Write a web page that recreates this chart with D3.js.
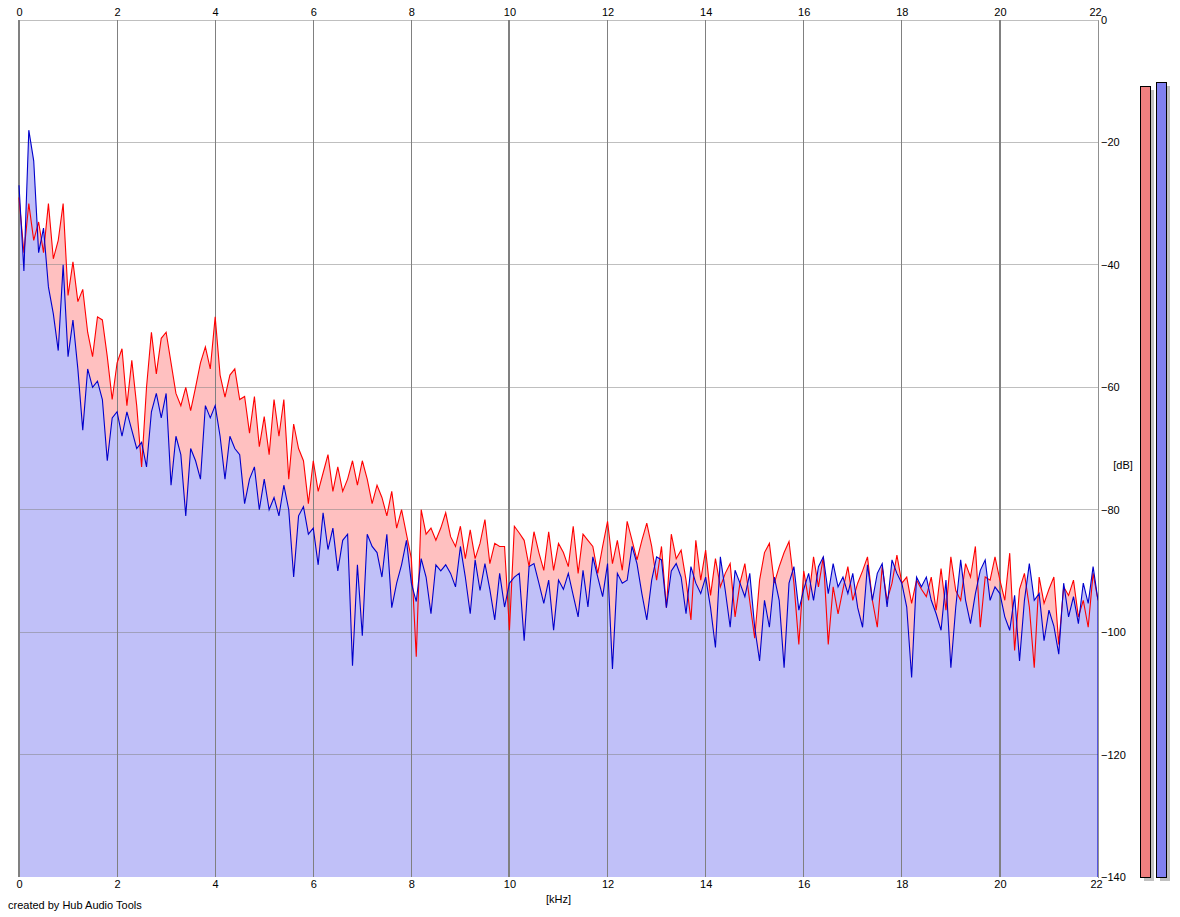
<!DOCTYPE html>
<html>
<head>
<meta charset="utf-8">
<script src="https://cdn.jsdelivr.net/npm/d3@7"></script>
<style>
  html, body { margin: 0; padding: 0; background: #ffffff; }
  svg { display: block; }
  text { font-family: "Liberation Sans", Arial, sans-serif; font-size: 11px; fill: #000; }
</style>
</head>
<body>
<svg id="chart" width="1180" height="917"></svg>
<script>
// ---- data ----
const freqStepKHz = 0.1;            // spectrum bin spacing (kHz)
const xTicks = [0, 2, 4, 6, 8, 10, 12, 14, 16, 18, 20, 22];
const xMajorTicks = [0, 10, 20];
const yTicks = [0, -20, -40, -60, -80, -100, -120, -140];
const xLabel = "[kHz]";
const yLabel = "[dB]";
const creditText = "created by Hub Audio Tools";

// left channel (red), dB, 0.0 .. 22.0 kHz
const redDb = [
  -29, -38, -30, -36, -33, -38, -30, -39, -36, -30,
  -45, -39.5, -46, -44, -51, -55, -48.5, -49, -55, -62,
  -56, -53.7, -63, -55.6, -63, -73, -60, -51, -57.8, -52,
  -51, -56, -61, -63, -60, -63.8, -60, -56, -53.4, -57,
  -48.5, -58, -61.6, -58, -57, -62, -61.5, -67.5, -61.5, -69.7,
  -64.8, -71, -62, -68, -62, -75, -66, -70, -72, -79,
  -72, -77, -74, -71, -77, -73, -77, -75, -72, -76,
  -72, -75, -79, -76, -78, -81, -77, -83, -80, -84,
  -88, -104, -80, -84, -83, -85, -83, -80.5, -84.4, -86,
  -82.7, -88, -83.3, -88, -85.5, -81.6, -88.8, -85.5, -86, -86,
  -99.7, -82.7, -83.8, -85, -89.3, -83.6, -87, -89.9, -83.6, -89.9,
  -85.5, -87, -89.3, -82.7, -90.4, -84, -85, -86, -90.4, -86,
  -81.9, -88.8, -85, -89.9, -81.9, -85, -88.2, -85, -82.2, -86,
  -91.5, -86, -96, -84, -88, -86.6, -91.5, -98, -85, -91.5,
  -86.6, -94, -88, -92.6, -90.4, -88.8, -97.5, -92, -88.8, -95,
  -101, -91.5, -87, -85.5, -92, -89.3, -87, -85.2, -92, -102,
  -90, -94.8, -87.7, -92.6, -87.7, -102, -92.6, -97, -93, -89.3,
  -94.8, -92, -90, -87.7, -94.8, -99.2, -89.3, -94.8, -92, -87.4,
  -92, -91, -95.3, -91.5, -93, -94.2, -91, -96.4, -89.6, -96.4,
  -87.7, -93.2, -94.8, -88.8, -91, -86, -99.2, -91, -91.5, -87.7,
  -91.5, -94.8, -87.1, -103, -93, -90.4, -95.9, -105.8, -91, -95.3,
  -93, -91, -102, -92.6, -94, -91.5, -97.5, -94.8, -99.2, -90.4,
  -94.8
];

// right channel (blue), dB, 0.0 .. 22.0 kHz
const blueDb = [
  -27, -41, -18, -23, -38, -34, -43.6, -48, -54, -40,
  -55, -49, -57, -67, -57, -60, -59, -62, -72, -65,
  -64, -68, -64, -67, -70, -69, -73, -64, -61, -65,
  -61, -76, -68, -71, -81, -70, -72, -75, -63, -65,
  -63, -68, -75, -68, -70, -71, -79, -75, -73, -80,
  -75, -80, -78, -81, -76, -80, -91, -81, -79.5, -84,
  -83, -89, -80.5, -86.5, -83, -90, -85, -84, -105.5, -89,
  -100.6, -84, -86, -87, -91, -84, -96, -92, -89, -85,
  -92, -95, -88, -91, -97, -89, -90, -89, -90.4, -92.6,
  -86, -91, -97, -88.2, -93.2, -88.8, -93, -98, -90.4, -95.9,
  -92, -91, -90.4, -101.4, -89.3, -88.8, -92, -95.3, -91.5, -99.7,
  -91.5, -93, -90.4, -94, -97.5, -89.9, -95.9, -87.7, -91, -94.2,
  -88.8, -106, -90.4, -92, -91.5, -86, -88.8, -93.7, -98, -91.5,
  -87.7, -88.2, -96, -90, -88.8, -91, -97, -89.3, -92, -93.7,
  -91, -96, -102.5, -87.7, -93.2, -99.2, -89.9, -92, -94.2, -90.4,
  -99.2, -104.7, -94.8, -99.2, -91, -94.8, -105.8, -92, -89.3, -96.4,
  -93, -90.4, -94.8, -89.3, -87.7, -93.7, -88.8, -92.6, -91, -93.7,
  -90.4, -96, -99.2, -89, -94.8, -90.4, -88.8, -95.9, -88.2, -90.4,
  -92, -95.9, -107.4, -91, -92.6, -91, -94.8, -97, -99.7, -91.5,
  -105.8, -95.9, -88.2, -94.8, -98.6, -93.7, -89.9, -88.2, -94.8, -92.6,
  -93.7, -97.5, -99.7, -94, -104.7, -94.8, -88.8, -94.8, -93.7, -101.4,
  -96.4, -99, -103.6, -92, -97.5, -94.2, -98.6, -92, -95.3, -89.3,
  -94.8
];

// channel level meters (dB)
const meterChannels = ["L", "R"];
const meterDb = [-10.8, -10.1];

// ---- chart ----
const svg = d3.select("#chart");
const plot = { left: 19, right: 1098, top: 20, bottom: 877 };

const x = d3.scaleLinear().domain([0, 22]).range([plot.left, plot.right]);
const y = d3.scaleLinear().domain([-140, 0]).range([plot.bottom, plot.top]);

const redPts = redDb.map((v, i) => [i * freqStepKHz, v]);
const bluePts = blueDb.map((v, i) => [i * freqStepKHz, v]);

const area = d3.area()
  .x(d => x(d[0]))
  .y0(y(-140))
  .y1(d => y(d[1]));
const line = d3.line()
  .x(d => x(d[0]))
  .y(d => y(d[1]));

// fills
svg.append("path").datum(redPts).attr("d", area).attr("fill", "#ffc0c0");
svg.append("path").datum(bluePts).attr("d", area).attr("fill", "#c0c0f8");

// grid
const grid = svg.append("g").attr("shape-rendering", "crispEdges");
grid.selectAll("line.h").data(yTicks.filter(t => t > -140)).join("line")
  .attr("x1", x(0)).attr("x2", x(22))
  .attr("y1", d => y(d)).attr("y2", d => y(d))
  .attr("stroke", "#808080").attr("stroke-opacity", 0.5).attr("stroke-width", 1);
grid.selectAll("line.v").data(xTicks).join("line")
  .attr("x1", d => x(d)).attr("x2", d => x(d))
  .attr("y1", y(0)).attr("y2", y(-140))
  .attr("stroke", d => d === 22 ? "#a0a0a0" : "#808080")
  .attr("stroke-width", d => xMajorTicks.includes(d) ? 2 : 1);

// spectrum lines
svg.append("path").datum(redPts).attr("d", line)
  .attr("fill", "none").attr("stroke", "#ff0000").attr("stroke-width", 1.1)
  .attr("stroke-linejoin", "miter");
svg.append("path").datum(bluePts.concat([[22, -140]])).attr("d", line)
  .attr("fill", "none").attr("stroke", "#0000cc").attr("stroke-width", 1.1)
  .attr("stroke-linejoin", "miter");

// x tick labels (top and bottom)
const xAxisTop = d3.axisTop(x).tickValues(xTicks).tickSize(0).tickPadding(4).tickFormat(d3.format("d"));
const xAxisBottom = d3.axisBottom(x).tickValues(xTicks).tickSize(0).tickPadding(3).tickFormat(d3.format("d"));
const gTop = svg.append("g").attr("transform", `translate(0,${plot.top})`).call(xAxisTop);
const gBot = svg.append("g").attr("transform", `translate(0,${plot.bottom})`).call(xAxisBottom);
[gTop, gBot].forEach(g => {
  g.select(".domain").remove();
  g.selectAll("text").attr("font-size", 11).attr("font-family", '"Liberation Sans", Arial, sans-serif').attr("fill", "#000");
});
gTop.selectAll(".tick").filter(d => d === 22).select("text").attr("dx", -3);
gBot.selectAll(".tick").filter(d => d === 22).select("text").attr("dx", -2);

// y tick labels (right)
const yAxis = d3.axisRight(y).tickValues(yTicks).tickSize(0).tickPadding(3).tickFormat(d3.format("d"));
const gY = svg.append("g").attr("transform", `translate(${plot.right},0)`).call(yAxis);
gY.select(".domain").attr("stroke", "#909090").attr("shape-rendering", "crispEdges");
gY.selectAll("text").attr("font-size", 11).attr("font-family", '"Liberation Sans", Arial, sans-serif').attr("fill", "#000");

// axis titles
svg.append("text").attr("x", x(11)).attr("y", 903).attr("text-anchor", "middle").text(xLabel);
svg.append("text").attr("x", 1123).attr("y", 469).attr("text-anchor", "middle").text(yLabel);
svg.append("text").attr("x", 8).attr("y", 909).text(creditText);

// level meters
const mx = d3.scaleBand().domain(meterChannels).range([1140, 1166]).paddingInner(0.375).paddingOuter(0);
const meterFill = ["#f08080", "#8080f0"];
const mg = svg.append("g").attr("shape-rendering", "crispEdges");
mg.selectAll("rect.shadow").data(meterDb).join("rect")
  .attr("x", (d, i) => mx(meterChannels[i]) + 4)
  .attr("y", d => y(d) + 4)
  .attr("width", mx.bandwidth())
  .attr("height", d => y(-140) - y(d))
  .attr("fill", "#c0c0c0");
mg.selectAll("rect.bar").data(meterDb).join("rect")
  .attr("x", (d, i) => mx(meterChannels[i]) + 0.5)
  .attr("y", d => y(d) + 0.5)
  .attr("width", mx.bandwidth())
  .attr("height", d => y(-140) - y(d))
  .attr("fill", (d, i) => meterFill[i])
  .attr("stroke", "#000").attr("stroke-width", 1);
</script>
</body>
</html>
